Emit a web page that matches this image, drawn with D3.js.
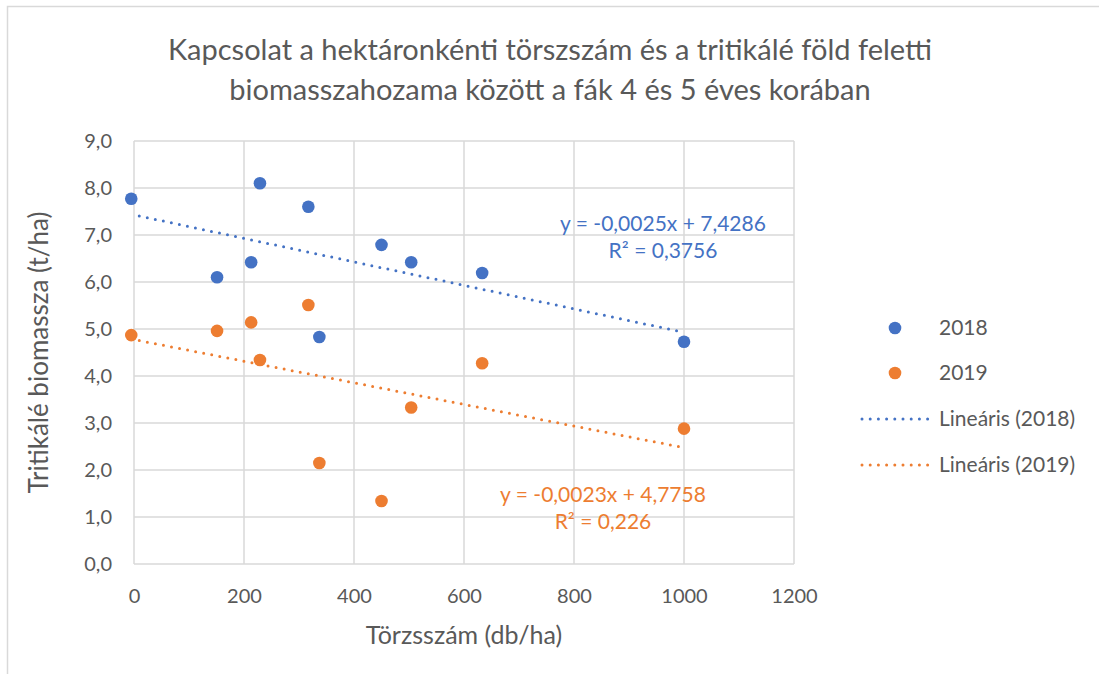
<!DOCTYPE html>
<html>
<head>
<meta charset="utf-8">
<script src="https://cdn.jsdelivr.net/npm/d3@7"></script>
<style>
  body { margin: 0; background: #fff; }
  svg { display: block; }
  text { font-family: Lato, "Liberation Sans", sans-serif; fill: #595959; }
</style>
</head>
<body>
<div class="content"></div>
<script>
var width = 1099
var height = 674

// data
var seriesNames = ['2018', '2019']
var seriesColors = ['#4472c4', '#ed7d31']
var treeCount = [-5, 151, 213, 229, 317, 337, 450, 504, 633, 1000]
var biomass2018 = [7.77, 6.10, 6.42, 8.10, 7.60, 4.83, 6.79, 6.42, 6.19, 4.73]
var biomass2019 = [4.87, 4.96, 5.14, 4.34, 5.51, 2.15, 1.34, 3.33, 4.27, 2.88]
var trendSlope = [-0.0025, -0.0023]
var trendIntercept = [7.4286, 4.7758]
var trendLabels = [
    ['y = -0,0025x + 7,4286', 'R² = 0,3756'],
    ['y = -0,0023x + 4,7758', 'R² = 0,226']
]
var xTicks = [0, 200, 400, 600, 800, 1000, 1200]
var yTicks = [0, 1, 2, 3, 4, 5, 6, 7, 8, 9]
var titleLines = [
    'Kapcsolat a hektáronkénti törszszám és a tritikálé föld feletti',
    'biomasszahozama között a fák 4 és 5 éves korában'
]

var margin = {left: 134, right: width - 794, top: 141, bottom: height - 564}

var x = d3.scaleLinear()
    .domain([0, 1200])
    .range([margin.left, width - margin.right])

var y = d3.scaleLinear()
    .domain([0, 9])
    .range([height - margin.bottom, margin.top])

var huFormat = d3.formatLocale({decimal: ',', thousands: ' ', grouping: [3], currency: ['', '']})
var fmt = huFormat.format('.1f')

var svg = d3.select('.content').append('svg')
    .attr('width', width)
    .attr('height', height)

// chart border (only left/top visible in the picture)
svg.append('rect')
    .attr('x', 7.5)
    .attr('y', 6.5)
    .attr('width', width + 20)
    .attr('height', height + 20)
    .attr('fill', 'none')
    .attr('stroke', '#d9d9d9')
    .attr('stroke-width', 1.5)

svg.selectAll('.title')
    .data(titleLines)
    .enter().append('text')
    .attr('class', 'title')
    .attr('x', 550)
    .attr('y', function(d, i) { return 60 + i * 40 })
    .attr('text-anchor', 'middle')
    .style('font-size', '29px')
    .text(function(d) { return d })

// grid
svg.append('g')
    .selectAll('line')
    .data(yTicks)
    .enter().append('line')
    .attr('x1', x(0))
    .attr('x2', x(1200))
    .attr('y1', function(d) { return y(d) })
    .attr('y2', function(d) { return y(d) })
    .attr('stroke', '#d9d9d9')
    .attr('stroke-width', 1.5)

svg.append('g')
    .selectAll('line')
    .data(xTicks)
    .enter().append('line')
    .attr('x1', function(d) { return x(d) })
    .attr('x2', function(d) { return x(d) })
    .attr('y1', y(0))
    .attr('y2', y(9))
    .attr('stroke', '#d9d9d9')
    .attr('stroke-width', 1.5)

// axes (labels only, lines are the grid)
var xAxis = svg.append('g')
    .attr('transform', 'translate(0,' + y(0) + ')')
    .call(d3.axisBottom(x).tickValues(xTicks).tickSize(0).tickPadding(25).tickFormat(d3.format('d')))
xAxis.select('.domain').remove()
xAxis.selectAll('text').style('font-size', '20px').attr('fill', '#595959').style('font-family', 'Lato')

var yAxis = svg.append('g')
    .attr('transform', 'translate(' + x(0) + ',0)')
    .call(d3.axisLeft(y).tickValues(yTicks).tickSize(0).tickPadding(22).tickFormat(fmt))
yAxis.select('.domain').remove()
yAxis.selectAll('text').style('font-size', '20px').attr('fill', '#595959').style('font-family', 'Lato')

svg.append('text')
    .attr('x', (x(0) + x(1200)) / 2)
    .attr('y', 644)
    .attr('text-anchor', 'middle')
    .style('font-size', '25px')
    .text('Törzsszám (db/ha)')

svg.append('text')
    .attr('transform', 'translate(48,' + (y(0) + y(9)) / 2 + ') rotate(-90)')
    .attr('text-anchor', 'middle')
    .style('font-size', '26px')
    .text('Tritikálé biomassza (t/ha)')

// trendlines, clipped to the plot area
svg.append('clipPath')
    .attr('id', 'plot')
    .append('rect')
    .attr('x', x(0))
    .attr('y', y(9))
    .attr('width', x(1200) - x(0))
    .attr('height', y(0) - y(9))

var xExtent = d3.extent(treeCount)
var line = d3.line()
    .x(function(d) { return x(d[0]) })
    .y(function(d) { return y(d[1]) })

svg.append('g')
    .attr('clip-path', 'url(#plot)')
    .selectAll('path')
    .data([0, 1])
    .enter().append('path')
    .attr('d', function(i) {
        return line(xExtent.map(function(v) { return [v, trendIntercept[i] + trendSlope[i] * v] }))
    })
    .attr('fill', 'none')
    .attr('stroke', function(i) { return seriesColors[i] })
    .attr('stroke-width', 3)
    .attr('stroke-linecap', 'round')
    .attr('stroke-dasharray', '0 8.2')

// points
var series = [biomass2018, biomass2019]
series.forEach(function(vals, i) {
    svg.append('g')
        .selectAll('circle')
        .data(vals)
        .enter().append('circle')
        .attr('cx', function(d, j) { return x(treeCount[j]) })
        .attr('cy', function(d) { return y(d) })
        .attr('r', 6.3)
        .attr('fill', seriesColors[i])
})

// trendline equations
var labelPos = [[663, 231], [603, 502]]
trendLabels.forEach(function(lines, i) {
    svg.append('g')
        .selectAll('text')
        .data(lines)
        .enter().append('text')
        .attr('x', labelPos[i][0])
        .attr('y', function(d, j) { return labelPos[i][1] + j * 27 })
        .attr('text-anchor', 'middle')
        .style('font-size', '21px')
        .style('fill', seriesColors[i])
        .text(function(d) { return d })
})

// legend
var legend = svg.append('g')
var legendY = [328, 373, 419, 465]
seriesNames.forEach(function(name, i) {
    legend.append('circle')
        .attr('cx', 895)
        .attr('cy', legendY[i])
        .attr('r', 6.3)
        .attr('fill', seriesColors[i])
    legend.append('text')
        .attr('x', 939)
        .attr('y', legendY[i] + 7)
        .style('font-size', '21px')
        .text(name)
})
seriesNames.forEach(function(name, i) {
    legend.append('line')
        .attr('x1', 862)
        .attr('x2', 930)
        .attr('y1', legendY[i + 2])
        .attr('y2', legendY[i + 2])
        .attr('stroke', seriesColors[i])
        .attr('stroke-width', 3)
        .attr('stroke-linecap', 'round')
        .attr('stroke-dasharray', '0 8.2')
    legend.append('text')
        .attr('x', 939)
        .attr('y', legendY[i + 2] + 7)
        .style('font-size', '21px')
        .text('Lineáris (' + name + ')')
})
</script>
</body>
</html>
